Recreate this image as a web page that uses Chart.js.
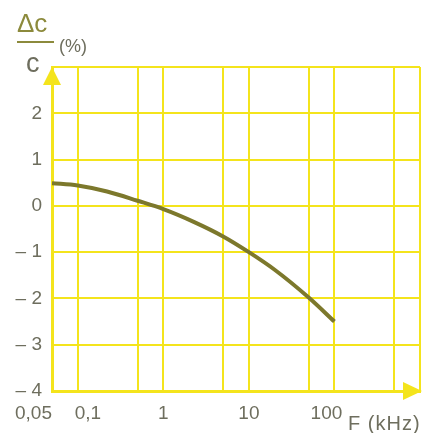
<!DOCTYPE html>
<html>
<head>
<meta charset="utf-8">
<script src="https://cdn.jsdelivr.net/npm/chart.js@4"></script>
<style>
  html, body { margin: 0; padding: 0; background: #fff; }
  #wrap { width: 427px; height: 433px; position: relative; }
</style>
</head>
<body>
<div id="wrap"><canvas id="chart"></canvas></div>
<script>
// frequency (kHz) vs relative capacitance change (%)
const freqs = [0.05, 0.1, 0.22, 0.5, 1, 2.3, 5, 10, 20, 50, 100];
const deltaC = [0.49, 0.44, 0.31, 0.11, -0.07, -0.35, -0.66, -1.0, -1.38, -1.98, -2.5];

// grid lines and tick labels
const gridFreqs = [0.05, 0.1, 0.5, 1, 5, 10, 50, 100, 500, 1000];
const labelFreqs = [0.05, 0.1, 1, 10, 100];
const freqLabels = ['0,05', '0,1', '1', '10', '100'];
const yTicks = [-4, -3, -2, -1, 0, 1, 2, 3];
const yLabels = ['\u2013 4', '\u2013 3', '\u2013 2', '\u2013 1', '0', '1', '2', ''];

const YELLOW = '#f4e41c';
const TEXT = '#6e6e5e';
const CURVE = '#7c782c';

const decorations = {
    id: 'decorations',
    afterDraw(chart) {
        const ctx = chart.ctx;
        const area = chart.chartArea;
        const x = chart.scales.x;
        ctx.save();
        // axis arrows
        ctx.fillStyle = YELLOW;
        ctx.beginPath();
        ctx.moveTo(area.left, area.top);
        ctx.lineTo(area.left - 9, area.top + 18);
        ctx.lineTo(area.left + 9, area.top + 18);
        ctx.closePath();
        ctx.fill();
        ctx.beginPath();
        ctx.moveTo(area.right + 2, area.bottom);
        ctx.lineTo(area.right - 17, area.bottom - 9);
        ctx.lineTo(area.right - 17, area.bottom + 9);
        ctx.closePath();
        ctx.fill();

        // x tick labels
        ctx.fillStyle = TEXT;
        ctx.font = '19px "Liberation Sans", Arial, sans-serif';
        ctx.textBaseline = 'alphabetic';
        const aligns = ['right', 'left', 'center', 'center', 'center'];
        labelFreqs.forEach((f, i) => {
            ctx.textAlign = aligns[i];
            let px = x.getPixelForValue(f);
            if (i === 1) px -= 3;
            if (i === 4) px -= 8;
            ctx.fillText(freqLabels[i], px, 419);
        });
        ctx.textAlign = 'left';
        ctx.font = '20px "Liberation Sans", Arial, sans-serif';
        ctx.letterSpacing = '1px';
        ctx.fillText('F (kHz)', 348, 430);
        ctx.letterSpacing = '0px';

        // y axis title: Δc / c (%)
        ctx.fillStyle = '#8c8a3c';
        ctx.font = '26px "Liberation Sans", Arial, sans-serif';
        ctx.fillText('\u0394c', 17, 32);
        ctx.fillRect(17, 41, 37, 2);
        ctx.fillStyle = TEXT;
        ctx.font = '27px "Liberation Sans", Arial, sans-serif';
        ctx.fillText('c', 26, 72);
        ctx.font = '18px "Liberation Sans", Arial, sans-serif';
        ctx.fillText('(%)', 59, 52);
        ctx.restore();
    }
};

new Chart(document.getElementById('chart').getContext('2d'), {
    type: 'line',
    data: {
        datasets: [{
            data: freqs.map((f, i) => ({ x: f, y: deltaC[i] })),
            borderColor: CURVE,
            borderWidth: 4,
            pointRadius: 0,
            fill: false,
            cubicInterpolationMode: 'monotone'
        }]
    },
    options: {
        responsive: true,
        maintainAspectRatio: false,
        animation: false,
        layout: { padding: { top: 67, right: 7, left: 0, bottom: 0 } },
        plugins: { legend: { display: false }, tooltip: { enabled: false } },
        scales: {
            x: {
                type: 'logarithmic',
                min: 0.05,
                max: 1000,
                afterBuildTicks: scale => { scale.ticks = gridFreqs.map(v => ({ value: v })); },
                afterFit: scale => { scale.height = 42; },
                ticks: { display: false },
                grid: { color: YELLOW, lineWidth: 2, drawTicks: false },
                border: { color: YELLOW, width: 3 }
            },
            y: {
                min: -4,
                max: 3,
                afterBuildTicks: scale => { scale.ticks = yTicks.map(v => ({ value: v })); },
                afterFit: scale => { scale.width = 52; },
                ticks: {
                    padding: 10,
                    color: TEXT,
                    font: { size: 19, family: '"Liberation Sans", Arial, sans-serif' },
                    callback: v => yLabels[yTicks.indexOf(v)]
                },
                grid: { color: YELLOW, lineWidth: 2, drawTicks: false },
                border: { color: YELLOW, width: 3 }
            }
        }
    },
    plugins: [decorations]
});
</script>
</body>
</html>
